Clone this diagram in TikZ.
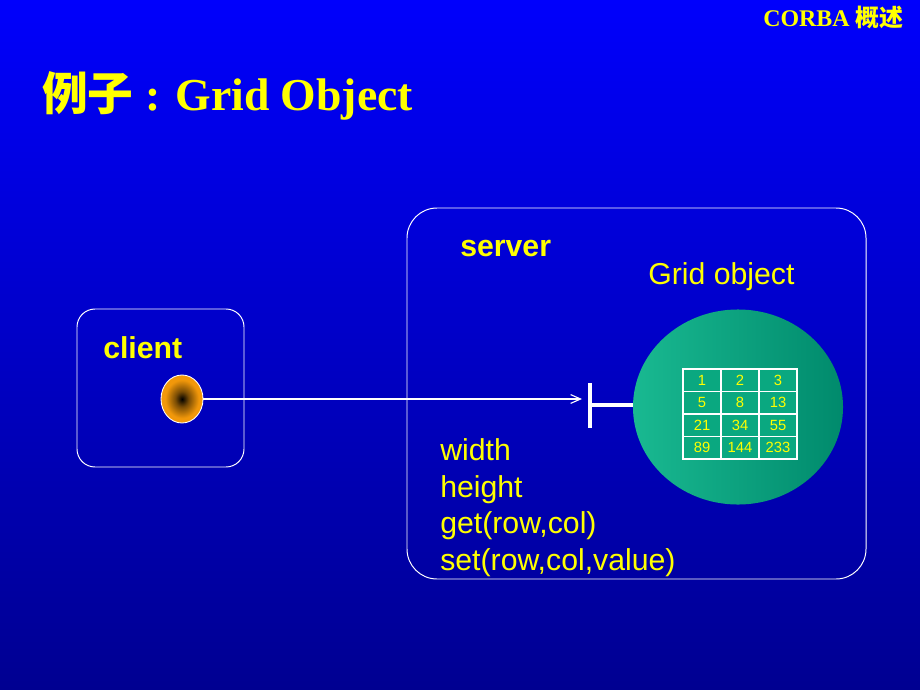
\documentclass[tikz,border=0pt]{standalone}
\usepackage{fontspec}
\setmainfont{Liberation Serif}
\setsansfont{Liberation Sans}
\newfontfamily\cjk{Noto Sans CJK SC}
\usetikzlibrary{arrows.meta}
\usetikzlibrary{shapes.geometric}

\definecolor{slidetop}{RGB}{0,0,252}
\definecolor{slidebot}{RGB}{0,0,145}
\definecolor{gridlight}{RGB}{25,185,145}
\definecolor{griddark}{RGB}{0,138,108}
\definecolor{cellfill}{RGB}{10,168,128}
\definecolor{ballorange}{RGB}{242,152,10}
\definecolor{labelyellow}{RGB}{255,255,0}
\pgfdeclareradialshading{orangeball}{\pgfpoint{0bp}{0bp}}{color(0bp)=(black); color(8bp)=(ballorange!50!black); color(20bp)=(ballorange); color(50bp)=(ballorange)}

\begin{document}
\begin{tikzpicture}[x=0.025cm, y=-0.025cm,
    box/.style={draw=white, line width=0.7pt},
    label/.style={text=labelyellow, font=\sffamily\fontsize{21.5}{26}\selectfont, inner sep=0pt, anchor=base west},
    cell/.style={draw=white, line width=0.9pt, fill=cellfill, text=labelyellow, minimum width=0.95cm, minimum height=0.5625cm, inner sep=0pt, font=\sffamily\fontsize{10.5}{12}\selectfont}]
    % background
    \shade[top color=slidetop, bottom color=slidebot] (0,0) rectangle (920,690);
    \useasboundingbox (0,0) rectangle (920,690);
    % headings
    \node[text=labelyellow, font=\bfseries\fontsize{17}{20}\selectfont, inner sep=0pt, anchor=base west] (topic) at (763,27) {CORBA {\cjk 概述}};
    \node[text=labelyellow, font=\bfseries\fontsize{32.5}{38}\selectfont, inner sep=0pt, anchor=base west] (title) at (42,111) {{\cjk 例子} : Grid Object};
    % client
    \draw[box, rounded corners=0.45cm] (77,309) rectangle (244,467);
    \node[label, font=\sffamily\bfseries\fontsize{21.5}{26}\selectfont] (client) at (103,358) {client};
    \node[ellipse, draw=white, line width=0.6pt, shading=orangeball, minimum width=1.05cm, minimum height=1.2cm, inner sep=0pt] (ball) at (182,399) {};
    % server
    \draw[box, rounded corners=0.75cm] (407,208) rectangle (866,579);
    \node[label, font=\sffamily\bfseries\fontsize{21.5}{26}\selectfont] (server) at (460,256) {server};
    \node[label] (gridname) at (648,284) {Grid object};
    \node[ellipse, left color=gridlight, right color=griddark, minimum width=5.25cm, minimum height=4.875cm, inner sep=0pt] (grid) at (738,407) {};
    \foreach \v [count=\i from 0] in {1,2,3,5,8,13,21,34,55,89,144,233} {
        \pgfmathtruncatemacro\r{div(\i,3)}
        \pgfmathtruncatemacro\c{mod(\i,3)}
        \node[cell] (cell-\r-\c) at (702+38*\c, 380.25+22.5*\r) {\v};
    }
    \foreach \m [count=\k from 0] in {width,height,{get(row,col)},{set(row,col,value)}}
        \node[label] (method-\k) at (440,460.5+36.7*\k) {\m};
    % interface
    \coordinate (tbar) at (590,405);
    \coordinate (tip) at (582,399);
    \draw[white, line width=3.5pt] (tbar) ++(0,-22) -- ++(0,45);
    \draw[white, line width=3.5pt] (tbar) -- (tbar -| grid.west);
    \draw[white, line width=0.8pt, -{Straight Barb[length=2.5mm, width=2.2mm]}] (ball.east) -- (tip);
\end{tikzpicture}
\end{document}
